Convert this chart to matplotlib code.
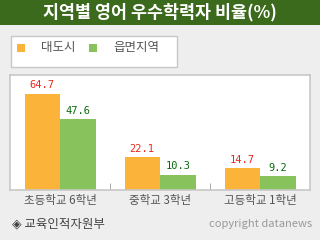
import matplotlib
matplotlib.use('Agg')
import matplotlib.pyplot as plt
from matplotlib.patches import Rectangle

plt.rcParams['font.family'] = ['Noto Sans CJK KR', 'DejaVu Sans']

# 데이터
categories = ['초등학교 6학년', '중학교 3학년', '고등학교 1학년']
series_names = ['대도시', '읍면지역']
city = [64.7, 22.1, 14.7]
rural = [47.6, 10.3, 9.2]

title = '지역별 영어 우수학력자 비율(%)'
source = '◈ 교육인적자원부'
credit = 'copyright datanews'

c_orange = '#fbb339'
c_green = '#88c25c'
c_bar = '#3b6a1c'
c_bg = '#eeeeee'
c_border = '#c8c8c8'

W, H = 320, 240
fig = plt.figure(figsize=(3.2, 2.4), dpi=100)
fig.patch.set_facecolor(c_bg)

def px(x, y, w, h):
    # 픽셀 좌표(위쪽 기준) -> figure 좌표
    return [x / W, 1 - (y + h) / H, w / W, h / H]

# 제목 띠
fig.patches.append(Rectangle((0, 1 - 25 / H), 1, 25 / H, transform=fig.transFigure,
                             facecolor=c_bar, edgecolor='none', zorder=0))
fig.text(0.5, 1 - 12.5 / H, title, color='white', fontsize=12.5, fontweight='bold',
         ha='center', va='center')

# 범례 상자
fig.patches.append(Rectangle((10.5 / W, 1 - 66.5 / H), 166 / W, 31 / H, transform=fig.transFigure,
                             facecolor='white', edgecolor=c_border, lw=1, zorder=0))
for i, (name, col) in enumerate(zip(series_names, [c_orange, c_green])):
    x0 = 17 + i * 72
    fig.patches.append(Rectangle((x0 / W, 1 - 52 / H), 8 / W, 8 / H, transform=fig.transFigure,
                                 facecolor=col, edgecolor='none'))
    fig.text((x0 + 24) / W, 1 - 48 / H, name, color='#555555', fontsize=9,
             ha='left', va='center')

# 막대 그래프
ax = fig.add_axes(px(10, 75, 300, 115))
ax.set_facecolor('white')
xs = range(len(categories))
w = 0.355
b1 = ax.bar([x - w / 2 for x in xs], city, w, color=c_orange)
b2 = ax.bar([x + w / 2 for x in xs], rural, w, color=c_green)
for r, v in zip(b1, city):
    ax.text(r.get_x() + r.get_width() / 2, v + 2.5, f'{v}', ha='center', va='bottom',
            color='#e8281a', fontsize=7.5, family='DejaVu Sans Mono')
for r, v in zip(b2, rural):
    ax.text(r.get_x() + r.get_width() / 2, v + 2.5, f'{v}', ha='center', va='bottom',
            color='#0a6a0a', fontsize=7.5, family='DejaVu Sans Mono')

ax.set_xlim(-0.5, 2.5)
ax.set_ylim(0, max(city) * 1.2)
ax.set_yticks([])
ax.set_xticks(list(xs))
ax.set_xticklabels(categories, fontsize=8.3, color='#555555')
ax.tick_params(axis='x', length=0, pad=3)
ax.set_xticks([0.5, 1.5], minor=True)
ax.tick_params(axis='x', which='minor', direction='in', length=5, color='#999999')
for s in ax.spines.values():
    s.set_color(c_border)
    s.set_linewidth(1.2)

fig.text(12 / W, 1 - 224 / H, source, color='#444444', fontsize=9, ha='left', va='center')
fig.text(312 / W, 1 - 224 / H, credit, color='#999999', fontsize=8, ha='right', va='center')

fig.savefig('out.png', dpi=100, facecolor=fig.get_facecolor())
